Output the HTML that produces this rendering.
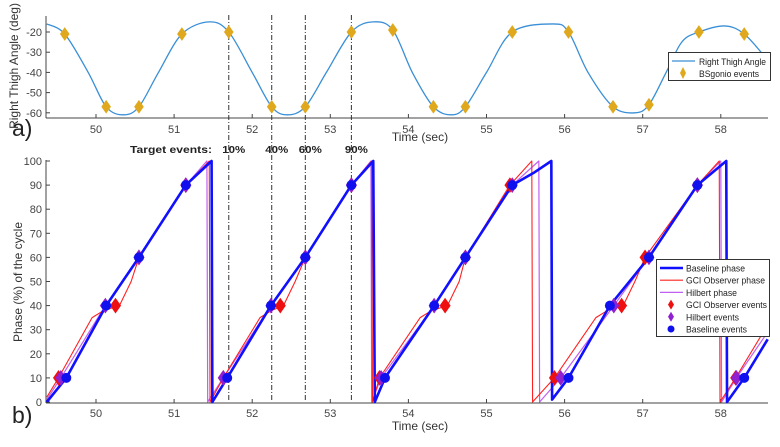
<!DOCTYPE html>
<html><head><meta charset="utf-8">
<style>
body{margin:0;background:#fff;width:780px;height:442px;overflow:hidden;font-family:"Liberation Sans",sans-serif}
svg text{font-family:"Liberation Sans",sans-serif}
</style></head><body>
<svg id="c" width="780" height="442" xmlns="http://www.w3.org/2000/svg"></svg>
<script>
// ---- data ----
const xTicks=[50,51,52,53,54,55,56,57,58];
const angleTicks=[-20,-30,-40,-50,-60];
const phaseTicks=[0,10,20,30,40,50,60,70,80,90,100];
const targetTimes=[51.7,52.25,52.68,53.27];
const targetLabels=["10%","40%","60%","90%"];
const angleT=[49.37,49.6,49.9,50.13,50.35,50.55,50.8,51.1,51.45,51.7,52.0,52.25,52.45,52.68,52.95,53.27,53.55,53.8,54.05,54.32,54.55,54.73,55.0,55.33,55.85,56.05,56.3,56.62,56.9,57.08,57.3,57.5,57.72,58.05,58.3,58.58];
const angleV=[-16,-21,-40,-57,-61,-57,-40,-21,-15,-20,-40,-57,-61,-57,-40,-20,-15,-19,-40,-57,-61,-57,-40,-20,-16,-20,-40,-57,-60,-56,-40,-25,-20,-17,-21,-33];
const bsEventT=[49.6,50.13,50.55,51.1,51.7,52.25,52.68,53.27,53.8,54.32,54.73,55.33,56.05,56.62,57.08,57.72,58.3];
const bsEventV=[-21,-57,-57,-21,-20,-57,-57,-20,-19,-57,-57,-20,-20,-57,-56,-20,-21];
const baseT=[49.37,49.62,50.13,50.55,51.15,51.48,51.48,51.49,51.68,52.24,52.68,53.27,53.55,53.55,53.57,53.7,54.33,54.73,55.33,55.6,55.83,55.83,55.84,56.05,56.58,57.08,57.7,58.07,58.07,58.08,58.3,58.6];
const baseP=[0,10,40,60,90,100,100,0,10,40,60,90,100,100,0,10,40,60,90,95,100,100,1,10,40,60,90,100,100,0,10,26];
const gciT=[49.37,49.52,49.95,50.1,50.3,50.45,50.55,51.15,51.45,51.45,51.46,51.63,52.1,52.25,52.4,52.55,52.68,53.27,53.53,53.53,53.54,53.63,54.15,54.3,54.5,54.65,54.73,55.3,55.58,55.58,55.59,55.87,56.4,56.55,56.75,56.9,57.03,57.7,57.98,57.98,57.99,58.19,58.6];
const gciP=[2,10,35,38,40,50,60,90,100,100,0,10,35,38,40,50,60,90,100,100,0,10,35,38,40,50,60,90,100,100,0,10,35,38,40,50,60,90,100,100,0,10,32];
const hilT=[49.37,49.55,50.12,50.55,51.15,51.42,51.42,51.43,51.63,52.24,52.68,53.27,53.52,53.52,53.53,53.65,54.33,54.73,55.33,55.67,55.67,55.68,55.95,56.63,57.08,57.7,58.0,58.0,58.01,58.2,58.6];
const hilP=[1,10,40,60,90,100,100,0,10,40,60,90,100,100,0,10,40,60,90,100,100,0,10,40,60,90,100,100,0,10,29];
const gciEvT=[49.52,50.25,50.55,51.15,51.63,52.36,52.68,53.27,53.63,54.47,54.73,55.3,55.87,56.73,57.03,57.7,58.19];
const gciEvP=[10,40,60,90,10,40,60,90,10,40,60,90,10,40,60,90,10];
const hilEvT=[49.55,50.12,50.55,51.15,51.63,52.24,52.68,53.27,53.65,54.33,54.73,55.33,55.95,56.63,57.08,57.7,58.2];
const hilEvP=[10,40,60,90,10,40,60,90,10,40,60,90,10,40,60,90,10];
const baseEvT=[49.62,50.13,50.55,51.15,51.68,52.24,52.68,53.27,53.7,54.33,54.73,55.33,56.05,56.58,57.08,57.7,58.3];
const baseEvP=[10,40,60,90,10,40,60,90,10,40,60,90,10,40,60,90,10];

// ---- axes ----
const X0=46,X1=768;
const xs=t=>96+(t-50)*78.1;
const ya=v=>32+(-20-v)*2.02;
const yp=p=>402-p*2.41;
const svg=document.getElementById('c');
const NS="http://www.w3.org/2000/svg";
function el(tag,attrs,parent){const e=document.createElementNS(NS,tag);for(const k in attrs)e.setAttribute(k,attrs[k]);(parent||svg).appendChild(e);return e;}
function txt(s,attrs){const e=el('text',attrs);e.textContent=s;return e;}
function clipXY(t){return Math.max(X0,Math.min(X1,xs(t)));}

// top axis
let g=el('g',{});


el('line',{x1:X0,y1:16,x2:X0,y2:118,stroke:'#444','stroke-width':1},g);
el('line',{x1:X0,y1:118,x2:X1,y2:118,stroke:'#444','stroke-width':1},g);
xTicks.forEach(t=>{el('line',{x1:xs(t),y1:118,x2:xs(t),y2:114,stroke:'#444'},g);
 const e=txt(t,{x:xs(t),y:133,'font-size':11,fill:'#444','text-anchor':'middle'});
 
 });
angleTicks.forEach(v=>{el('line',{x1:X0,y1:ya(v),x2:X0+4,y2:ya(v),stroke:'#444'},g);
 const e=txt(v,{x:X0-4,y:ya(v)+4,'font-size':11,fill:'#444','text-anchor':'end'});
 
 });
let e=txt('Right Thigh Angle (deg)',{x:0,y:0,'font-size':12,fill:'#333','text-anchor':'middle',transform:'translate(18,66) rotate(-90)'});

e=txt('Time (sec)',{x:420,y:141,'font-size':12,fill:'#333','text-anchor':'middle'});

e=txt('a)',{x:12,y:136,'font-size':23,fill:'#222'});


// bottom axis
el('line',{x1:X0,y1:160,x2:X0,y2:403,stroke:'#444'});
el('line',{x1:X0,y1:403,x2:X1,y2:403,stroke:'#444'});
xTicks.forEach(t=>{el('line',{x1:xs(t),y1:403,x2:xs(t),y2:399,stroke:'#444'});
 const e=txt(t,{x:xs(t),y:417,'font-size':11,fill:'#444','text-anchor':'middle'});
 
 });
phaseTicks.forEach(p=>{el('line',{x1:X0,y1:yp(p),x2:X0+4,y2:yp(p),stroke:'#444'});
 const e=txt(p,{x:X0-4,y:yp(p)+4,'font-size':11,fill:'#444','text-anchor':'end'});
 
 });
e=txt('Phase (%) of the cycle',{x:0,y:0,'font-size':12,fill:'#333','text-anchor':'middle',transform:'translate(22,282) rotate(-90)'});

e=txt('Time (sec)',{x:420,y:430,'font-size':12,fill:'#333','text-anchor':'middle'});

e=txt('b)',{x:12,y:423,'font-size':23,fill:'#222'});


// target lines
targetTimes.forEach((t,i)=>{
 const l=el('line',{x1:xs(t),y1:15,x2:xs(t),y2:402,stroke:'#333','stroke-width':1,'stroke-dasharray':'5,2,1,2'});
 
 
 const e=txt(targetLabels[i],{x:xs(t)+5,y:153,'font-size':10.5,'font-weight':'bold',fill:'#222','text-anchor':'middle',textLength:23,lengthAdjust:'spacingAndGlyphs'});
 
 
});
e=txt('Target events:',{x:130,y:153,'font-size':10.5,'font-weight':'bold',fill:'#222',textLength:82,lengthAdjust:'spacingAndGlyphs'});


// angle curve (catmull-rom)
function smoothPath(T,V,fx,fy){
 const P=T.map((t,i)=>[fx(t),fy(V[i])]);let d='M'+P[0][0]+','+P[0][1];
 for(let i=0;i<P.length-1;i++){const p0=P[Math.max(0,i-1)],p1=P[i],p2=P[i+1],p3=P[Math.min(P.length-1,i+2)];
  d+=' C'+(p1[0]+(p2[0]-p0[0])/6)+','+(p1[1]+(p2[1]-p0[1])/6)+' '+(p2[0]-(p3[0]-p1[0])/6)+','+(p2[1]-(p3[1]-p1[1])/6)+' '+p2[0]+','+p2[1];}
 return d;}
let pa=el('path',{d:smoothPath(angleT,angleV,xs,ya),fill:'none',stroke:'#3a8fd6','stroke-width':1.3});

function diamond(cx,cy,r,fill,name){const d=el('path',{d:`M${cx},${cy-r} L${cx+r*0.7},${cy} L${cx},${cy+r} L${cx-r*0.7},${cy} Z`,fill:fill,stroke:fill});
 }
bsEventT.forEach((t,i)=>diamond(xs(t),ya(bsEventV[i]),6,'#e0a81c','bsgonio-event'));

// phase lines
function poly(T,P,color,w,name){const pts=T.map((t,i)=>clipXY(t)+','+yp(P[i])).join(' ');
 const p=el('polyline',{points:pts,fill:'none',stroke:color,'stroke-width':w,'stroke-linejoin':'round'});
 }
poly(hilT,hilP,'#c060f0',1.2,'hilbert-phase-line');
poly(gciT,gciP,'#ff2020',1.1,'gci-observer-phase-line');
poly(baseT,baseP,'#1010ff',2.6,'baseline-phase-line');
gciEvT.forEach((t,i)=>diamond(xs(t),yp(gciEvP[i]),7,'#ee1010','gci-observer-event'));
hilEvT.forEach((t,i)=>diamond(xs(t),yp(hilEvP[i]),7,'#9020d0','hilbert-event'));
baseEvT.forEach((t,i)=>{const c=el('circle',{cx:xs(t),cy:yp(baseEvP[i]),r:5,fill:'#1010ee'});
 });

// legends
let lg=el('g',{});

el('rect',{x:668.5,y:52.5,width:102,height:28,fill:'#fff',stroke:'#333'},lg);
el('line',{x1:672,y1:61,x2:695,y2:61,stroke:'#3a8fd6','stroke-width':1.3},lg);
el('path',{d:'M683,67 L686,73 L683,79 L680,73Z',fill:'#e0a81c'},lg);
let t1=el('text',{x:699,y:65,'font-size':9,fill:'#222',textLength:67,lengthAdjust:'spacingAndGlyphs'},lg);t1.textContent='Right Thigh Angle';
let t2=el('text',{x:699,y:77,'font-size':9,fill:'#222',textLength:60,lengthAdjust:'spacingAndGlyphs'},lg);t2.textContent='BSgonio events';

let lb=el('g',{});

el('rect',{x:656.5,y:259.5,width:113,height:77,fill:'#fff',stroke:'#333'},lb);
const lgItems=[['Baseline phase','line','#1010ff',2.6,59],['GCI Observer phase','line','#ff2020',1.1,79],['Hilbert phase','line','#c060f0',1.2,51],['GCI Observer events','dia','#ee1010',0,81],['Hilbert events','dia','#9020d0',0,53],['Baseline events','dot','#1010ee',0,61]];
lgItems.forEach((it,i)=>{const y=268+i*12.2;
 if(it[1]=='line')el('line',{x1:660,y1:y,x2:683,y2:y,stroke:it[2],'stroke-width':it[3]},lb);
 else if(it[1]=='dia')el('path',{d:`M671,${y-5} L674,${y} L671,${y+5} L668,${y}Z`,fill:it[2]},lb);
 else el('circle',{cx:671,cy:y,r:3.5,fill:it[2]},lb);
 const tt=el('text',{x:686,y:y+3.5,'font-size':9,fill:'#222',textLength:it[4],lengthAdjust:'spacingAndGlyphs'},lb);tt.textContent=it[0];});
</script>
</body></html>
